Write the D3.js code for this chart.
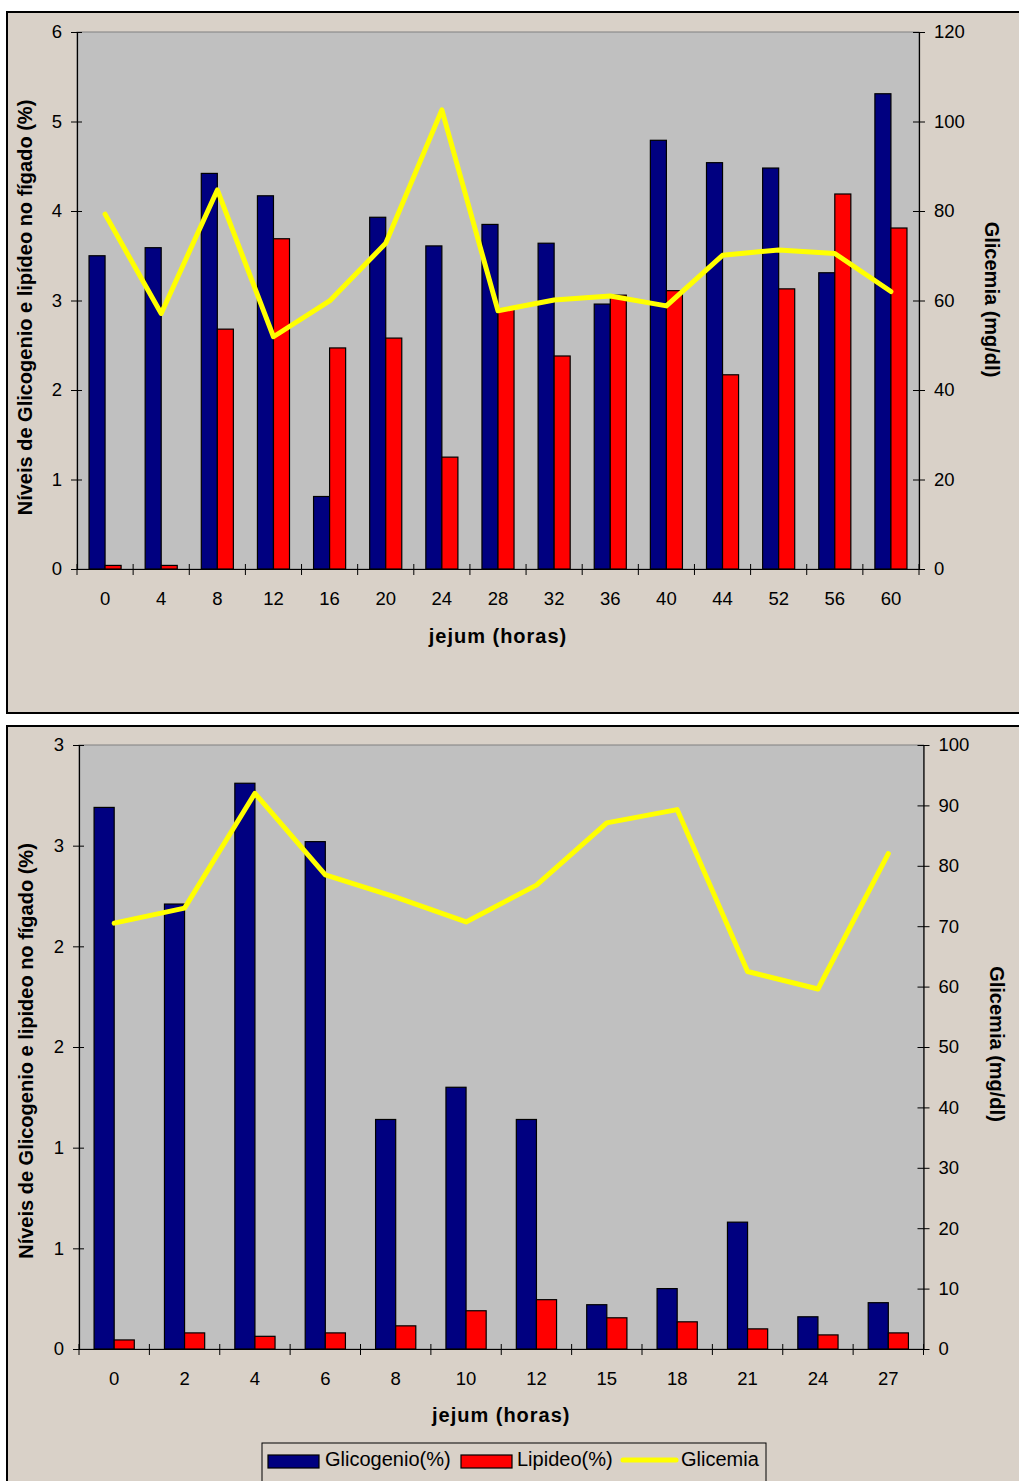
<!DOCTYPE html>
<html><head><meta charset="utf-8">
<script src="https://cdn.jsdelivr.net/npm/d3@7/dist/d3.min.js"></script>
<style>
html,body{margin:0;padding:0;background:#fff;}
svg{display:block;font-family:"Liberation Sans",Arial,sans-serif;}
</style></head>
<body>
<svg id="c" width="1019" height="1481"></svg>
<script>
// ---------- DATA ----------
const topCategories = ["0","4","8","12","16","20","24","28","32","36","40","44","52","56","60"];
const topGlicogenio = [3.50,3.59,4.42,4.17,0.81,3.93,3.61,3.85,3.64,2.96,4.79,4.54,4.48,3.31,5.31];
const topLipideo    = [0.04,0.04,2.68,3.69,2.47,2.58,1.25,2.91,2.38,3.06,3.11,2.17,3.13,4.19,3.81];
const topGlicemia   = [79.3,57.1,84.7,51.9,59.9,72.8,102.6,57.7,60.1,61.0,58.8,70.1,71.3,70.5,62.0];
const topLeftTicks = [0,1,2,3,4,5,6];
const topLeftTickLabels = ["0","1","2","3","4","5","6"];
const topRightTicks = [0,20,40,60,80,100,120];

const botCategories = ["0","2","4","6","8","10","12","15","18","21","24","27"];
const botGlicogenio = [2.69,2.21,2.81,2.52,1.14,1.30,1.14,0.22,0.30,0.63,0.16,0.23];
const botLipideo    = [0.045,0.08,0.063,0.08,0.115,0.19,0.245,0.155,0.135,0.10,0.07,0.08];
const botGlicemia   = [70.5,73.0,92.0,78.5,74.8,70.7,76.8,87.1,89.3,62.5,59.6,82.0];
const botLeftTicks = [0,0.5,1,1.5,2,2.5,3];
const botLeftTickLabels = ["0","1","1","2","2","3","3"];
const botRightTicks = [0,10,20,30,40,50,60,70,80,90,100];

const seriesNames = ["Glicogenio(%)","Lipideo(%)","Glicemia"];
const xTitle = "jejum (horas)";
const topLeftTitle = "Níveis de Glicogenio e lipídeo no fígado (%)";
const botLeftTitle = "Níveis de Glicogenio e lipideo no fígado (%)";
const rightTitle = "Glicemia (mg/dl)";

// ---------- STYLE ----------
const COL_BLUE = "#000080", COL_RED = "#ff0000", COL_YEL = "#ffff00";
const PANEL = "#d9d1c8", PLOT = "#c0c0c0";
const FS = 18.5, FT = 20, FLG = 20;

const svg = d3.select("#c");

function drawChart(o){
  const g = svg.append("g");
  g.append("rect").attr("x",o.panel[0]).attr("y",o.panel[1]).attr("width",o.panel[2]).attr("height",o.panel[3])
    .attr("fill",PANEL).attr("stroke","#000").attr("stroke-width",2);
  const [x0,x1,y0,y1] = o.plot;
  g.append("rect").attr("x",x0).attr("y",y0).attr("width",x1-x0).attr("height",y1-y0)
    .attr("fill",PLOT).attr("stroke","#808080").attr("stroke-width",1);

  const x = d3.scaleBand().domain(o.cats).range([x0,x1]).padding(0);
  const bw = x.bandwidth();
  const barW = bw/3.5;
  const off = (bw - 2*barW)/2;
  const yL = d3.scaleLinear().domain(o.leftDomain).range([y1,y0]);
  const yR = d3.scaleLinear().domain(o.rightDomain).range([y1,y0]);

  g.append("g").selectAll("rect").data(o.cats).join("rect")
    .attr("x",d=>x(d)+off).attr("width",barW)
    .attr("y",(d,i)=>yL(o.s1[i])).attr("height",(d,i)=>yL(0)-yL(o.s1[i]))
    .attr("fill",COL_BLUE).attr("stroke","#000").attr("stroke-width",1.2);
  g.append("g").selectAll("rect").data(o.cats).join("rect")
    .attr("x",d=>x(d)+off+barW).attr("width",barW)
    .attr("y",(d,i)=>yL(o.s2[i])).attr("height",(d,i)=>yL(0)-yL(o.s2[i]))
    .attr("fill",COL_RED).attr("stroke","#000").attr("stroke-width",1.2);

  const line = d3.line().x((d,i)=>x(o.cats[i])+bw/2).y(d=>yR(d));
  g.append("path").datum(o.s3).attr("d",line).attr("fill","none")
    .attr("stroke",COL_YEL).attr("stroke-width",5).attr("stroke-linejoin","round").attr("stroke-linecap","round");

  const aL = g.append("g").attr("transform",`translate(${x0},0)`)
    .call(d3.axisLeft(yL).tickValues(o.leftTicks).tickSize(0).tickPadding(15)
      .tickFormat((d,i)=>o.leftTickLabels[i]));
  aL.select(".domain").attr("stroke","#000").attr("stroke-width",1.2);
  aL.selectAll(".tick line").attr("x1",-6).attr("x2",5).attr("stroke","#000");
  aL.selectAll("text").attr("font-size",FS).attr("fill","#000").attr("font-family","Liberation Sans, Arial");

  const aR = g.append("g").attr("transform",`translate(${x1},0)`)
    .call(d3.axisRight(yR).tickValues(o.rightTicks).tickSize(0).tickPadding(15));
  aR.select(".domain").attr("stroke","#000").attr("stroke-width",1.2);
  aR.selectAll(".tick line").attr("x1",-6).attr("x2",6).attr("stroke","#000");
  aR.selectAll("text").attr("font-size",FS).attr("fill","#000").attr("font-family","Liberation Sans, Arial");

  const aB = g.append("g").attr("transform",`translate(0,${y1})`)
    .call(d3.axisBottom(x).tickSize(0).tickPadding(23));
  aB.select(".domain").attr("stroke","#000").attr("stroke-width",1.2);
  aB.selectAll("text").attr("font-size",FS).attr("fill","#000").attr("font-family","Liberation Sans, Arial");
  const bounds = o.cats.map(c=>x(c)).concat([x1]);
  aB.append("g").selectAll("line").data(bounds).join("line")
    .attr("x1",d=>d).attr("x2",d=>d).attr("y1",-5).attr("y2",6).attr("stroke","#000");

  g.append("text").attr("x",(x0+x1)/2).attr("y",o.xTitleY).attr("text-anchor","middle")
    .attr("dominant-baseline","middle").attr("font-size",FT).attr("font-weight","bold")
    .attr("letter-spacing",1).text(xTitle);
  g.append("text").attr("transform",`translate(${o.leftTitleX},${(y0+y1)/2+o.leftTitleDy}) rotate(-90)`)
    .attr("text-anchor","middle").attr("dominant-baseline","middle")
    .attr("font-size",FT).attr("font-weight","bold").text(o.leftTitle);
  g.append("text").attr("transform",`translate(${o.rightTitleX},${(y0+y1)/2+o.rightTitleDy}) rotate(90)`)
    .attr("text-anchor","middle").attr("dominant-baseline","middle")
    .attr("font-size",FT).attr("font-weight","bold").text(rightTitle);
  return g;
}

drawChart({
  panel:[7,12,1030,701], plot:[77,919,32,569],
  cats:topCategories, s1:topGlicogenio, s2:topLipideo, s3:topGlicemia,
  leftDomain:[0,6], rightDomain:[0,120],
  leftTicks:topLeftTicks, leftTickLabels:topLeftTickLabels, rightTicks:topRightTicks,
  xTitleY:638, leftTitleX:27, leftTitleDy:7, rightTitleX:990, rightTitleDy:-1, leftTitle:topLeftTitle
});
drawChart({
  panel:[7,726,1030,770], plot:[79,923.5,745,1349],
  cats:botCategories, s1:botGlicogenio, s2:botLipideo, s3:botGlicemia,
  leftDomain:[0,3], rightDomain:[0,100],
  leftTicks:botLeftTicks, leftTickLabels:botLeftTickLabels, rightTicks:botRightTicks,
  xTitleY:1417, leftTitleX:28, leftTitleDy:4, rightTitleX:995, rightTitleDy:-3, leftTitle:botLeftTitle
});

// legend
const lg = svg.append("g");
lg.append("rect").attr("x",262).attr("y",1443).attr("width",504).attr("height",50)
  .attr("fill",PANEL).attr("stroke","#000").attr("stroke-width",1);
const legItems = [
  {name:seriesNames[0], type:"bar", color:COL_BLUE, sx:268, tx:325},
  {name:seriesNames[1], type:"bar", color:COL_RED, sx:461, tx:517},
  {name:seriesNames[2], type:"line", color:COL_YEL, sx:623, tx:681}
];
legItems.forEach(it=>{
  if(it.type==="bar"){
    lg.append("rect").attr("x",it.sx).attr("y",1455).attr("width",51).attr("height",13)
      .attr("fill",it.color).attr("stroke","#000").attr("stroke-width",1.2);
  } else {
    lg.append("line").attr("x1",it.sx).attr("x2",it.sx+53).attr("y1",1460).attr("y2",1460)
      .attr("stroke",it.color).attr("stroke-width",5).attr("stroke-linecap","round");
  }
  lg.append("text").attr("x",it.tx).attr("y",1461).attr("dominant-baseline","middle")
    .attr("font-size",FLG).text(it.name);
});
</script>
</body></html>
